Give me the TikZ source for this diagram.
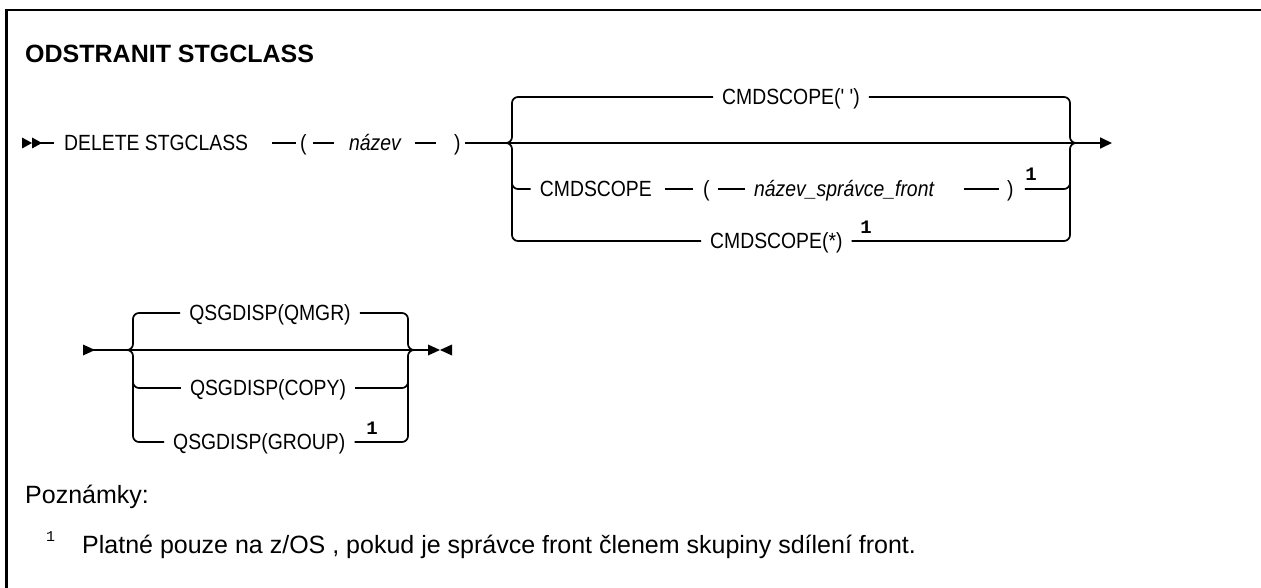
\documentclass[tikz,border=0pt]{standalone}
\usepackage{fontspec}
\setmainfont{Liberation Sans}
\setmonofont{Liberation Mono}
\newfontfamily\synfont{Liberation Sans}[FakeStretch=0.88]
\usetikzlibrary{arrows.meta}

\tikzset{
  syn/.style={font=\synfont\fontsize{22}{24}\selectfont, inner sep=0pt, text height=15.7pt, text depth=0pt},
  synvar/.style={syn, font=\synfont\itshape\fontsize{22}{24}\selectfont},
  opt/.style={syn, inner xsep=9pt},
  fnmark/.style={font=\ttfamily\bfseries\fontsize{19}{19}\selectfont, inner sep=0pt},
  note/.style={font=\fontsize{25}{30}\selectfont, inner sep=0pt},
  rail/.style={line width=1.7pt},
  branch/.style={rail, rounded corners=6pt},
  stop/.style={rail, -{Triangle[length=12pt,width=11pt]}}
}

\begin{document}
\begin{tikzpicture}[x=1pt,y=-1pt]
\useasboundingbox (0,0) rectangle (1261,588);
\draw[line width=2.5pt] (6.3,600) -- (6.3,10) -- (1270,10);

\node[font=\bfseries\fontsize{25}{30}\selectfont, inner sep=0pt, anchor=base west] (title) at (25,63) {ODSTRANIT STGCLASS};

\coordinate (start1) at (22,143);
\node[syn, anchor=west] (del) at (64,143) {DELETE STGCLASS};
\node[syn, anchor=west] (lp1) at (300,143) {(};
\node[synvar, anchor=west] (name) at (349,143) {název};
\node[syn, anchor=west] (rp1) at (454,143) {)};
\coordinate (b1l) at (512,143);
\coordinate (b1r) at (1070,143);
\coordinate (end1) at (1112,143);

\node[opt] (dflt) at (791,97) {CMDSCOPE(' ')};
\node[syn, anchor=east] (cmd) at (652,189) {CMDSCOPE};
\node[syn, anchor=west] (lp2) at (703,189) {(};
\node[synvar, anchor=west] (qmname) at (754,189) {název\_správce\_front};
\node[syn, anchor=west] (rp2) at (1007,189) {)};
\node[fnmark] (n1) at (1031,174) {1};
\node[opt, anchor=west] (star) at (701,241) {CMDSCOPE(*)};
\node[fnmark] (n2) at (866,227) {1};

\fill (start1) ++(0,-5.5) -- ++(10,5.5) -- ++(-10,5.5) -- cycle;
\fill (start1) ++(10,-5.5) -- ++(10,5.5) -- ++(-10,5.5) -- cycle;
\draw[rail, shorten >=10pt] ([xshift=18pt]start1) -- (del.west);
\draw[rail, shorten <=24pt, shorten >=4pt] (del.east) -- (lp1.west);
\draw[rail, shorten <=6pt, shorten >=15pt] (lp1.east) -- (name.west);
\draw[rail, shorten <=14pt, shorten >=18pt] (name.east) -- (rp1.west);
\draw[rail, shorten <=4pt] (rp1.east) -- (b1r);
\draw[stop] (b1r) -- (end1);

\draw[branch] (dflt.west) -| (b1l) -- ++(-6,0);
\draw[branch] (dflt.east) -| (b1r) -- ++(6,0);
\draw[branch, shorten <=9pt, shorten >=8pt] (cmd.west) -| (b1l);
\draw[rail, shorten <=13pt, shorten >=10pt] (cmd.east) -- (lp2.west);
\draw[rail, shorten <=8pt, shorten >=9pt] (lp2.east) -- (qmname.west);
\draw[rail, shorten <=30pt, shorten >=8pt] (qmname.east) -- (rp2.west);
\draw[branch, shorten <=11pt, shorten >=8pt] (rp2.east) -| (b1r);
\draw[branch] (star.west) -| (b1l) -- ++(-6,0);
\draw[branch] (star.east) -| (b1r) -- ++(6,0);

\coordinate (start2) at (83,350);
\coordinate (b2l) at (133,350);
\coordinate (b2r) at (408,350);
\coordinate (end2) at (428,350);
\node[opt] (qmgr) at (270,313) {QSGDISP(QMGR)};
\node[opt] (copy) at (268,388) {QSGDISP(COPY)};
\node[opt, anchor=west] (group) at (164,442) {QSGDISP(GROUP)};
\node[fnmark] (n3) at (372,428) {1};

\fill (start2) ++(0,-5.5) -- ++(12,5.5) -- ++(-12,5.5) -- cycle;
\draw[rail] ([xshift=10pt]start2) -- (end2);
\fill (end2) ++(0,-5.5) -- ++(12,5.5) -- ++(-12,5.5) -- cycle;
\fill (end2) ++(24,-5.5) -- ++(-12,5.5) -- ++(12,5.5) -- cycle;
\draw[branch] (qmgr.west) -| (b2l) -- ++(-6,0);
\draw[branch] (qmgr.east) -| (b2r) -- ++(6,0);
\draw[branch, shorten >=8pt] (copy.west) -| (b2l);
\draw[branch, shorten >=8pt] (copy.east) -| (b2r);
\draw[branch] (group.west) -| (b2l) -- ++(-6,0);
\draw[branch] (group.east) -| (b2r) -- ++(6,0);

\node[note, anchor=base west] (notes) at (25,503) {Poznámky:};
\node[note, anchor=base west] (fntext) at (46,553) {\raisebox{12pt}{\ttfamily\fontsize{15}{15}\selectfont 1}\hspace{27pt}Platné pouze na z/OS , pokud je správce front členem skupiny sdílení front.};
\end{tikzpicture}
\end{document}
